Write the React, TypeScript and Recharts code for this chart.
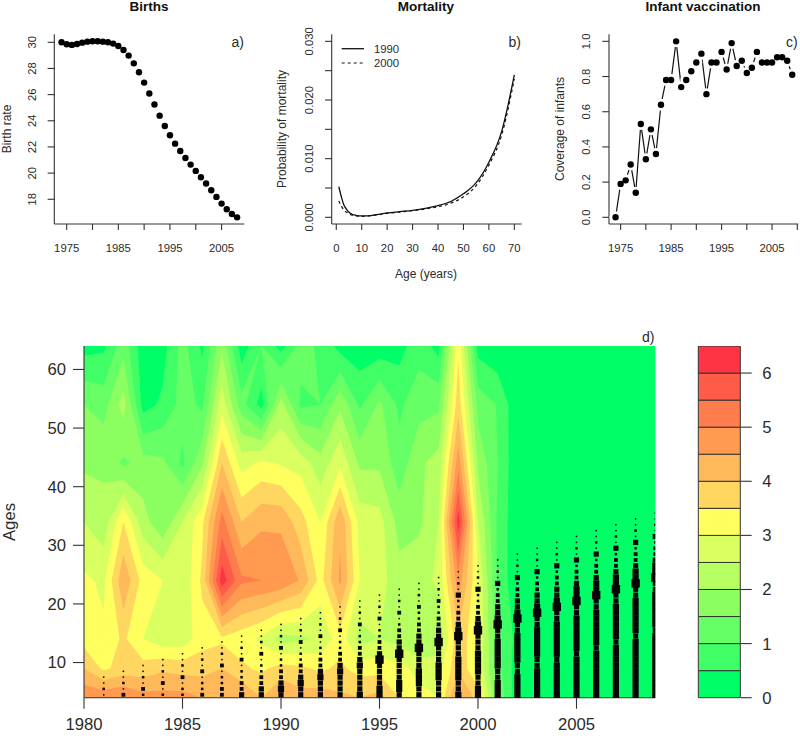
import {
  Bar,
  BarChart,
  Line,
  LineChart,
  ReferenceArea,
  Scatter,
  ScatterChart,
  XAxis,
  YAxis,
} from "recharts";

const FONT = "'Liberation Sans', Arial, sans-serif";
const INK = "#2b2b2b";

// a) births
const birthYears = [
  1974, 1975, 1976, 1977, 1978, 1979, 1980, 1981, 1982, 1983, 1984, 1985, 1986, 1987, 1988, 1989, 1990, 1991,
  1992, 1993, 1994, 1995, 1996, 1997, 1998, 1999, 2000, 2001, 2002, 2003, 2004, 2005, 2006, 2007, 2008,
];
const birthRate = [
  30.0, 29.85, 29.8, 29.87, 29.97, 30.05, 30.08, 30.08, 30.05, 30.0, 29.9, 29.72, 29.41, 28.98, 28.39, 27.71,
  26.92, 26.08, 25.24, 24.39, 23.6, 22.89, 22.25, 21.69, 21.16, 20.65, 20.17, 19.68, 19.2, 18.69, 18.18, 17.67,
  17.24, 16.88, 16.62,
];

// b) mortality
const mortalityAges = [1, 2, 3, 4, 5, 6, 7, 8, 10, 12, 15, 20, 25, 30, 35, 40, 45, 50, 55, 60, 65, 70];
const mortality1990 = [
  0.00523, 0.0035, 0.0021, 0.0014, 0.00085, 0.00057, 0.0004, 0.0003, 0.00023, 0.00023, 0.0004, 0.00074, 0.00097,
  0.0012, 0.00153, 0.002, 0.0027, 0.004, 0.0059, 0.0094, 0.0146, 0.0243,
];
const mortality2000 = [
  0.0028, 0.0019, 0.00125, 0.00085, 0.00057, 0.0004, 0.0003, 0.00023, 0.00017, 0.00023, 0.00034, 0.00068, 0.0009,
  0.00114, 0.00142, 0.0018, 0.0024, 0.0035, 0.0054, 0.0089, 0.0140, 0.0236,
];

// c) vaccination
const vaccYears = [
  1974, 1975, 1976, 1977, 1978, 1979, 1980, 1981, 1982, 1983, 1984, 1985, 1986, 1987, 1988, 1989, 1990, 1991,
  1992, 1993, 1994, 1995, 1996, 1997, 1998, 1999, 2000, 2001, 2002, 2003, 2004, 2005, 2006, 2007, 2008, 2009,
];
const vaccCoverage = [
  0, 0.19, 0.21, 0.3, 0.14, 0.53, 0.33, 0.5, 0.36, 0.64, 0.78, 0.78, 1.0, 0.74, 0.78, 0.83, 0.88, 0.93, 0.7, 0.88,
  0.88, 0.94, 0.84, 0.99, 0.86, 0.89, 0.82, 0.85, 0.94, 0.88, 0.88, 0.88, 0.91, 0.91, 0.89, 0.81,
];

// d) surface, one row per age, columns are 1980..2009
const surfaceYears = [
  1980, 1981, 1982, 1983, 1984, 1985, 1986, 1987, 1988, 1989, 1990, 1991, 1992, 1993, 1994, 1995, 1996, 1997, 1998,
  1999, 2000, 2001, 2002, 2003, 2004, 2005, 2006, 2007, 2008, 2009,
];
const surfaceAges = [4, 9, 14, 24, 34, 44, 54, 64];
const zAge4 = [4.9, 4.9, 5.0, 4.7, 4.7, 4.7, 4.5, 4.5, 4.5, 4.0, 4.5, 4.2, 4.3, 4.1, 4.0, 4.2, 3.5, 3.2, 3.0, 4.7, 3.8, 1.4, 0.2, 0.1, 0.1, 0.1, 0.1, 0.1, 0.1, 0.1];
const zAge9 = [4.0, 3.4, 3.7, 3.7, 3.9, 3.8, 3.8, 4.0, 3.6, 3.4, 3.7, 3.6, 3.4, 3.6, 3.3, 3.3, 3.2, 2.8, 2.8, 3.9, 3.0, 1.2, 0.2, 0.1, 0.1, 0.1, 0.1, 0.1, 0.1, 0.1];
const zAge14 = [3.3, 3.1, 3.6, 3.0, 2.7, 2.7, 3.3, 3.4, 3.2, 2.9, 2.3, 2.4, 2.6, 3.3, 2.3, 2.5, 2.3, 2.0, 2.1, 3.9, 3.0, 1.2, 0.3, 0.1, 0.1, 0.1, 0.1, 0.1, 0.1, 0.1];
const zAge24 = [3.1, 2.9, 4.4, 3.3, 3.0, 2.6, 3.6, 6.3, 5.1, 5.0, 4.9, 4.45, 3.3, 4.6, 3.0, 2.7, 2.2, 2.3, 2.6, 4.8, 3.0, 0.9, 0.1, 0.1, 0.1, 0.1, 0.1, 0.1, 0.1, 0.1];
const zAge34 = [2.5, 2.2, 3.5, 2.2, 1.6, 2.5, 3.4, 5.2, 4.0, 4.4, 4.4, 3.7, 3.0, 4.4, 2.8, 2.7, 1.8, 1.9, 2.5, 6.3, 2.5, 0.9, 0.1, 0.1, 0.1, 0.1, 0.1, 0.1, 0.1, 0.1];
const zAge44 = [1.9, 1.9, 1.4, 1.7, 1.6, 0.9, 1.9, 4.0, 2.8, 3.1, 2.95, 2.8, 2.2, 2.9, 1.9, 1.9, 1.2, 1.9, 2.2, 4.8, 1.9, 1.0, 0.1, 0.1, 0.1, 0.1, 0.1, 0.1, 0.1, 0.1];
const zAge54 = [1.5, 1.3, 2.2, 0.3, 0.6, 1.2, 0.9, 2.8, 1.2, 0.3, 2.2, 0.9, 1.0, 1.9, 0.9, 1.6, 0.9, 1.3, 1.4, 3.8, 1.3, 0.97, 0.1, 0.1, 0.1, 0.1, 0.1, 0.1, 0.1, 0.1];
const zAge64 = [0.3, 0.4, 1.3, 0.2, 0.3, 1.2, 0.4, 1.9, 0.2, 1.0, 0.3, 1.2, 0.9, 0.3, 0.2, 0.2, 0.3, 0.8, 0.3, 3.4, 0.3, 0.1, 0.1, 0.1, 0.1, 0.1, 0.1, 0.1, 0.1, 0.1];
const surfaceRows = [zAge4, zAge9, zAge14, zAge24, zAge34, zAge44, zAge54, zAge64];

const bandStep = 0.5;
const bandColors = [
  "#00FF66", "#40FF66", "#66FF66", "#8CFF60", "#B5FF60", "#DAFF60", "#FFFF60",
  "#FFD660", "#FFB95A", "#FF9A50", "#FF7C4C", "#FF5B48", "#FF3344",
];

// square marker sizes per year, first entry is the lowest age (4.5), one more age each row
const dotColumns: [number, number[]][] = [
  [1981, [1, 2, 1, 1]],
  [1982, [3, 1, 2, 1, 1]],
  [1983, [2, 3, 1, 2, 1, 1]],
  [1984, [2, 1, 3, 1, 2, 1, 1]],
  [1985, [2, 2, 1, 3, 1, 2, 1, 1]],
  [1986, [3, 2, 2, 1, 3, 1, 2, 1, 1]],
  [1987, [3, 3, 2, 2, 1, 3, 1, 2, 1, 1]],
  [1988, [4, 3, 3, 2, 2, 1, 3, 1, 2, 1, 1]],
  [1989, [4, 4, 3, 3, 2, 2, 1, 3, 1, 2, 1, 1]],
  [1990, [4, 5, 4, 3, 3, 2, 2, 1, 3, 1, 2, 1, 1]],
  [1991, [4, 4, 5, 4, 3, 3, 2, 2, 1, 3, 1, 2, 1, 1]],
  [1992, [4, 4, 4, 5, 4, 3, 3, 2, 2, 1, 3, 1, 2, 1, 1]],
  [1993, [4, 4, 4, 4, 5, 4, 3, 3, 2, 2, 1, 3, 1, 2, 1, 1]],
  [1994, [5, 4, 4, 4, 4, 5, 4, 3, 3, 2, 2, 1, 3, 1, 2, 1, 1]],
  [1995, [5, 5, 4, 4, 4, 4, 6, 4, 3, 3, 2, 2, 1, 3, 1, 2, 1, 1]],
  [1996, [4, 5, 5, 4, 4, 4, 4, 6, 4, 4, 3, 3, 2, 1, 3, 1, 2, 1, 1]],
  [1997, [4, 4, 5, 5, 5, 4, 4, 4, 6, 4, 4, 3, 3, 2, 2, 3, 1, 2, 1, 1]],
  [1998, [4, 4, 4, 5, 5, 5, 4, 4, 4, 6, 4, 4, 3, 3, 2, 2, 3, 1, 2, 1, 1]],
  [1999, [5, 4, 4, 5, 5, 5, 5, 4, 4, 4, 6, 5, 4, 3, 3, 2, 2, 4, 1, 2, 1, 1]],
  [2000, [5, 5, 4, 4, 5, 5, 5, 5, 4, 4, 4, 6, 5, 4, 3, 3, 2, 2, 4, 1, 2, 1, 1]],
  [2001, [5, 5, 5, 4, 4, 5, 5, 5, 5, 5, 4, 4, 6, 5, 4, 4, 3, 3, 2, 4, 1, 2, 1, 1]],
  [2002, [5, 5, 5, 5, 4, 4, 5, 5, 5, 5, 5, 4, 4, 6, 5, 4, 4, 3, 3, 2, 4, 1, 2, 1, 1]],
  [2003, [5, 5, 5, 5, 5, 4, 4, 5, 5, 5, 5, 5, 4, 4, 6, 5, 4, 4, 3, 3, 2, 4, 1, 2, 1, 1]],
  [2004, [5, 5, 5, 5, 5, 5, 4, 5, 5, 5, 5, 5, 5, 4, 4, 6, 5, 4, 4, 3, 3, 2, 4, 1, 2, 1, 1]],
  [2005, [5, 5, 5, 5, 5, 5, 5, 4, 5, 5, 5, 5, 5, 5, 4, 4, 6, 5, 5, 4, 3, 3, 2, 4, 1, 2, 1, 1]],
  [2006, [5, 5, 5, 5, 5, 5, 5, 5, 4, 5, 5, 5, 5, 5, 5, 4, 4, 6, 5, 5, 4, 3, 3, 2, 4, 1, 2, 1, 1]],
  [2007, [5, 5, 5, 5, 5, 5, 5, 5, 5, 4, 5, 5, 5, 5, 5, 5, 4, 4, 6, 5, 5, 4, 3, 3, 2, 4, 1, 2, 1, 1]],
  [2008, [5, 5, 5, 5, 5, 5, 5, 5, 5, 5, 4, 5, 5, 5, 5, 5, 5, 4, 4, 6, 5, 5, 4, 3, 3, 2, 4, 1, 2, 1, 1]],
  [2009, [5, 5, 5, 5, 5, 5, 5, 5, 5, 5, 5, 4, 5, 5, 5, 5, 5, 5, 4, 4, 6, 5, 5, 4, 3, 3, 2, 4, 1, 2, 1, 1]],
];
const dotPixels = [0, 1.5, 2.5, 3.8, 5.2, 6.2, 8.4];

const birthData = birthYears.map((year, i) => ({ year, rate: birthRate[i] }));
const mortalityData = mortalityAges.map((age, i) => ({ age, m1990: mortality1990[i], m2000: mortality2000[i] }));
const vaccData = vaccYears.map((year, i) => ({ year, coverage: vaccCoverage[i] }));
const dotData = dotColumns.flatMap(([year, sizes]) =>
  sizes.map((size, k) => ({ year, age: 4.5 + k, size })),
);
const legendRow = [Object.fromEntries(bandColors.map((_, i) => ["band" + i, bandStep]))];

type Corner = { x: number; y: number; z: number };

// keep the part of a cell where z >= level, z runs linearly along the edges
function clipAbove(poly: Corner[], level: number): Corner[] {
  const out: Corner[] = [];
  poly.forEach((a, i) => {
    const b = poly[(i + 1) % poly.length];
    if (a.z >= level) out.push(a);
    if (a.z >= level !== b.z >= level) {
      const t = (level - a.z) / (b.z - a.z);
      out.push({ x: a.x + t * (b.x - a.x), y: a.y + t * (b.y - a.y), z: level });
    }
  });
  return out;
}

function ContourShape({ x, y, width, height }: any) {
  const x0 = surfaceYears[0];
  const x1 = surfaceYears[surfaceYears.length - 1];
  const y0 = surfaceAges[0];
  const y1 = surfaceAges[surfaceAges.length - 1];
  const px = (v: number) => x + ((v - x0) / (x1 - x0)) * width;
  const py = (v: number) => y + ((y1 - v) / (y1 - y0)) * height;
  const corner = (c: number, r: number) => ({ x: px(surfaceYears[c]), y: py(surfaceAges[r]), z: surfaceRows[r][c] });

  return (
    <g>
      {bandColors.map((color, k) => {
        let d = "";
        for (let r = 0; r < surfaceAges.length - 1; r++) {
          for (let c = 0; c < surfaceYears.length - 1; c++) {
            const poly = clipAbove([corner(c, r), corner(c + 1, r), corner(c + 1, r + 1), corner(c, r + 1)], k * bandStep);
            if (poly.length > 2) {
              d += "M" + poly.map((p) => p.x.toFixed(2) + " " + p.y.toFixed(2)).join("L") + "Z";
            }
          }
        }
        return <path key={k} d={d} fill={color} stroke="none" />;
      })}
    </g>
  );
}

function DotShape({ cx, cy, payload }: any) {
  const s = dotPixels[payload.size];
  // the last year sits on the plot edge, only its left half shows
  const w = payload.year === 2009 ? s / 2 : s;
  return <rect x={cx - s / 2} y={cy - s / 2} width={w} height={s} fill="#050505" />;
}

function smallXTick(labelled: number[]) {
  return ({ x, y, payload }: any) =>
    labelled.includes(payload.value) ? (
      <text x={x} y={y + 20} textAnchor="middle" fontSize={11.3} fontFamily={FONT} fill={INK}>
        {payload.value}
      </text>
    ) : (
      <g />
    );
}

function rotatedYTick(labelled: number[] | null, digits: number) {
  return ({ x, y, payload }: any) =>
    !labelled || labelled.includes(payload.value) ? (
      <text
        x={x - 10}
        y={y}
        transform={`rotate(-90 ${x - 10} ${y})`}
        textAnchor="middle"
        fontSize={11.3}
        fontFamily={FONT}
        fill={INK}
      >
        {payload.value.toFixed(digits)}
      </text>
    ) : (
      <g />
    );
}

const axisStyle = { stroke: "#333", strokeWidth: 1.1 };

function BirthsChart() {
  return (
    <LineChart width={270} height={290} data={birthData} margin={{ top: 34.3, right: 25.7, bottom: 0, left: 0 }}>
      <XAxis
        dataKey="year"
        type="number"
        domain={[1972.6, 2009.4]}
        ticks={[1975, 1980, 1985, 1990, 1995, 2000, 2005]}
        interval={0}
        height={66}
        tickSize={6}
        axisLine={axisStyle}
        tickLine={axisStyle}
        tick={smallXTick([1975, 1985, 1995, 2005])}
      />
      <YAxis
        type="number"
        domain={[16.11, 30.61]}
        ticks={[18, 20, 22, 24, 26, 28, 30]}
        interval={0}
        width={54.3}
        tickSize={6.7}
        axisLine={axisStyle}
        tickLine={axisStyle}
        tick={rotatedYTick(null, 0)}
      />
      <Line
        dataKey="rate"
        stroke="none"
        dot={{ r: 3.2, fill: "#000", stroke: "none" }}
        isAnimationActive={false}
      />
    </LineChart>
  );
}

function MortalityChart() {
  return (
    <LineChart width={270} height={290} data={mortalityData} margin={{ top: 34.3, right: 18.3, bottom: 0, left: 0 }}>
      <XAxis
        dataKey="age"
        type="number"
        domain={[-1.8, 72.9]}
        ticks={[0, 10, 20, 30, 40, 50, 60, 70]}
        interval={0}
        height={66}
        tickSize={6}
        axisLine={axisStyle}
        tickLine={axisStyle}
        tick={smallXTick([0, 10, 20, 30, 40, 50, 60, 70])}
      />
      <YAxis
        type="number"
        domain={[-0.00114, 0.0312]}
        ticks={[0, 0.005, 0.01, 0.015, 0.02, 0.025, 0.03]}
        interval={0}
        width={61.7}
        tickSize={6.7}
        axisLine={axisStyle}
        tickLine={axisStyle}
        tick={rotatedYTick([0, 0.01, 0.02, 0.03], 3)}
      />
      <Line dataKey="m1990" type="monotone" stroke="#111" strokeWidth={1.3} dot={false} isAnimationActive={false} />
      <Line
        dataKey="m2000"
        type="monotone"
        stroke="#111"
        strokeWidth={1.2}
        strokeDasharray="3 3"
        dot={false}
        isAnimationActive={false}
      />
    </LineChart>
  );
}

function VaccinationChart() {
  return (
    <LineChart width={260} height={290} data={vaccData} margin={{ top: 34.3, right: 1.7, bottom: 0, left: 0 }}>
      <XAxis
        dataKey="year"
        type="number"
        domain={[1972.7, 2010.2]}
        ticks={[1975, 1980, 1985, 1990, 1995, 2000, 2005, 2010]}
        interval={0}
        height={66}
        tickSize={6}
        axisLine={axisStyle}
        tickLine={axisStyle}
        tick={smallXTick([1975, 1985, 1995, 2005])}
      />
      <YAxis
        type="number"
        domain={[-0.038, 1.04]}
        ticks={[0, 0.2, 0.4, 0.6, 0.8, 1]}
        interval={0}
        width={69}
        tickSize={6.7}
        axisLine={axisStyle}
        tickLine={axisStyle}
        tick={rotatedYTick(null, 1)}
      />
      {/* type "b" look: white halo cuts the line near each point */}
      <Line
        dataKey="coverage"
        stroke="#111"
        strokeWidth={1.2}
        dot={{ r: 6, fill: "#fff", stroke: "none" }}
        isAnimationActive={false}
      />
      <Line
        dataKey="coverage"
        stroke="none"
        dot={{ r: 3.2, fill: "#000", stroke: "none" }}
        isAnimationActive={false}
      />
    </LineChart>
  );
}

function SurfaceChart() {
  return (
    <ScatterChart width={680} height={392} margin={{ top: 0, right: 24.7, bottom: 0, left: 0 }}>
      <XAxis
        dataKey="year"
        type="number"
        domain={[1980, 2009]}
        ticks={[1980, 1985, 1990, 1995, 2000, 2005]}
        interval={0}
        height={40.3}
        tickSize={11}
        tickMargin={9}
        axisLine={axisStyle}
        tickLine={axisStyle}
        tick={{ fontSize: 16.7, fontFamily: FONT, fill: INK }}
      />
      <YAxis
        dataKey="age"
        type="number"
        domain={[4, 64]}
        ticks={[10, 20, 30, 40, 50, 60]}
        interval={0}
        width={84}
        tickSize={11}
        tickMargin={7}
        axisLine={axisStyle}
        tickLine={axisStyle}
        tick={{ fontSize: 16.7, fontFamily: FONT, fill: INK }}
      />
      <ReferenceArea x1={1980} x2={2009} y1={4} y2={64} shape={ContourShape} />
      <Scatter data={dotData} shape={DotShape} isAnimationActive={false} />
    </ScatterChart>
  );
}

function ScaleChart() {
  return (
    <BarChart
      width={110}
      height={392}
      data={legendRow}
      barCategoryGap={0}
      margin={{ top: 0, right: 0, bottom: 40.3, left: 8.3 }}
    >
      <XAxis hide />
      <YAxis
        orientation="right"
        type="number"
        domain={[0, 6.5]}
        ticks={[0, 1, 2, 3, 4, 5, 6]}
        interval={0}
        width={59.3}
        tickSize={11}
        tickMargin={10.5}
        axisLine={false}
        tickLine={axisStyle}
        tick={{ fontSize: 16.7, fontFamily: FONT, fill: INK }}
      />
      {bandColors.map((color, i) => (
        <Bar
          key={i}
          dataKey={"band" + i}
          stackId="scale"
          fill={color}
          stroke="#333"
          strokeWidth={1}
          isAnimationActive={false}
        />
      ))}
    </BarChart>
  );
}

function Annotations() {
  const small = { fontSize: 11.3, fill: INK };
  const axisTitle = { fontSize: 12, fill: INK, textAnchor: "middle" as const };
  const panelTag = { fontSize: 14, fill: INK };
  const title = { fontSize: 13.5, fontWeight: "bold", fill: "#111", textAnchor: "middle" as const };
  return (
    <svg
      width={800}
      height={738}
      style={{ position: "absolute", left: 0, top: 0, pointerEvents: "none", fontFamily: FONT }}
    >
      <text x={149} y={11} {...title}>Births</text>
      <text x={426} y={11} {...title}>Mortality</text>
      <text x={703} y={11} {...title}>Infant vaccination</text>

      <text x={231.5} y={47} {...panelTag}>a)</text>
      <text x={508.5} y={47} {...panelTag}>b)</text>
      <text x={786} y={47} {...panelTag}>c)</text>
      <text x={642} y={342} {...panelTag}>d)</text>

      <text x={11} y={129} transform="rotate(-90 11 129)" {...axisTitle}>Birth rate</text>
      <text x={286} y={129} transform="rotate(-90 286 129)" {...axisTitle}>Probability of mortality</text>
      <text x={564} y={129} transform="rotate(-90 564 129)" {...axisTitle}>Coverage of infants</text>
      <text x={426} y={278} {...axisTitle}>Age (years)</text>
      <text x={15} y={522} transform="rotate(-90 15 522)" textAnchor="middle" fontSize={16.7} fill={INK}>Ages</text>

      <line x1={341.7} x2={364} y1={48.7} y2={48.7} stroke="#111" strokeWidth={1.3} />
      <line x1={341.7} x2={364} y1={63} y2={63} stroke="#111" strokeWidth={1.2} strokeDasharray="3 3" />
      <text x={374} y={53} {...small}>1990</text>
      <text x={374} y={67} {...small}>2000</text>
    </svg>
  );
}

export default function App() {
  const at = (left: number, top: number) => ({ position: "absolute" as const, left, top });
  return (
    <div style={{ position: "absolute", left: 0, top: 0, width: 800, height: 738, background: "#fff", overflow: "hidden" }}>
      <div style={at(0, 0)}><BirthsChart /></div>
      <div style={at(270, 0)}><MortalityChart /></div>
      <div style={at(540, 0)}><VaccinationChart /></div>
      <div style={at(0, 346)}><SurfaceChart /></div>
      <div style={at(690, 346)}><ScaleChart /></div>
      <Annotations />
    </div>
  );
}
